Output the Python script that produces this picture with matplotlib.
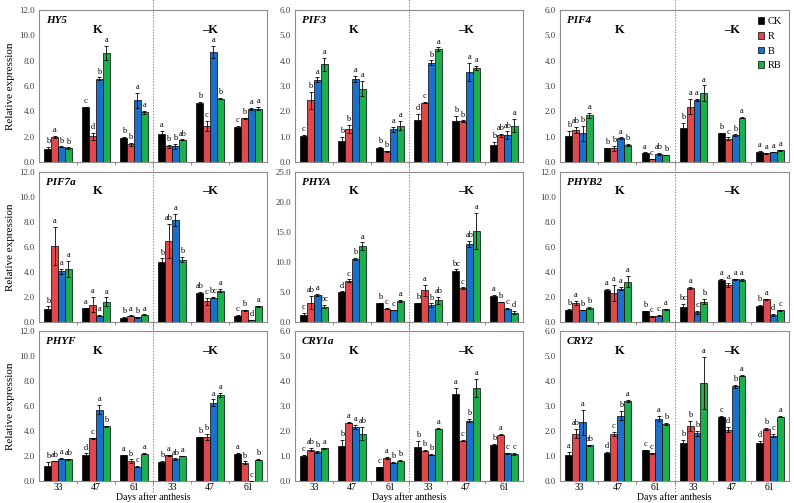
import numpy as np
import matplotlib.pyplot as plt

plt.rcParams['font.family'] = 'Liberation Serif'

days = ['33', '47', '61', '33', '47', '61']
treatments = ['CK', 'R', 'B', 'RB']
colors = ['#000000', '#E0494C', '#1C6FCB', '#1DAF4B']

# mean, sd and letters per group (K 33/47/61, -K 33/47/61) x (CK, R, B, RB)
hy5_mean = [[1.05, 1.97, 1.20, 1.07], [4.33, 2.02, 6.56, 8.63], [1.92, 1.39, 4.86, 3.91],
            [2.18, 1.23, 1.23, 1.76], [4.65, 2.83, 8.69, 5.01], [2.76, 3.46, 4.17, 4.22]]
hy5_sd = [[0.15, 0.08, 0.03, 0.08], [0.04, 0.30, 0.12, 0.55], [0.04, 0.10, 0.60, 0.15],
          [0.25, 0.15, 0.20, 0.03], [0.08, 0.40, 0.50, 0.05], [0.10, 0.05, 0.08, 0.15]]
hy5_let = [['b', 'a', 'b', 'b'], ['c', 'd', 'b', 'a'], ['b', 'b', 'a', 'a'],
           ['a', 'b', 'b', 'ab'], ['b', 'c', 'a', 'b'], ['c', 'b', 'a', 'a']]

pif3_mean = [[1.01, 2.43, 3.24, 3.85], [0.83, 1.31, 3.27, 2.89], [0.56, 0.42, 1.29, 1.44],
             [1.65, 2.34, 3.91, 4.46], [1.63, 1.60, 3.56, 3.70], [0.68, 1.05, 1.06, 1.44]]
pif3_sd = [[0.07, 0.35, 0.10, 0.25], [0.15, 0.15, 0.12, 0.30], [0.02, 0.03, 0.10, 0.18],
           [0.25, 0.03, 0.10, 0.06], [0.20, 0.04, 0.35, 0.08], [0.10, 0.06, 0.15, 0.25]]
pif3_let = [['c', 'b', 'a', 'a'], ['b', 'b', 'a', 'a'], ['b', 'b', 'a', 'a'],
            ['d', 'c', 'b', 'a'], ['b', 'b', 'a', 'a'], ['b', 'ab', 'ab', 'a']]

pif4_mean = [[1.04, 1.26, 1.14, 1.84], [0.54, 0.55, 0.94, 0.68], [0.37, 0.11, 0.31, 0.28],
             [1.36, 2.18, 2.45, 2.72], [1.13, 0.91, 1.06, 1.75], [0.39, 0.34, 0.39, 0.47]]
pif4_sd = [[0.18, 0.12, 0.30, 0.10], [0.03, 0.10, 0.03, 0.05], [0.01, 0.01, 0.04, 0.01],
           [0.18, 0.30, 0.05, 0.30], [0.03, 0.06, 0.03, 0.02], [0.05, 0.01, 0.01, 0.02]]
pif4_let = [['b', 'ab', 'b', 'a'], ['b', 'b', 'a', 'b'], ['a', 'c', 'ab', 'b'],
            ['b', 'a', 'a', 'a'], ['b', 'c', 'b', 'a'], ['a', 'a', 'a', 'a']]

pif7a_mean = [[1.05, 6.10, 4.06, 4.22], [1.10, 1.39, 0.52, 1.62], [0.34, 0.52, 0.37, 0.58],
              [4.79, 6.50, 8.17, 4.98], [2.36, 1.65, 1.96, 2.52], [0.50, 0.94, 0.18, 1.26]]
pif7a_sd = [[0.20, 1.50, 0.20, 0.65], [0.06, 0.60, 0.02, 0.35], [0.04, 0.02, 0.04, 0.03],
            [0.30, 1.35, 0.45, 0.20], [0.08, 0.25, 0.03, 0.15], [0.05, 0.03, 0.02, 0.06]]
pif7a_let = [['b', 'a', 'a', 'a'], ['a', 'a', 'a', 'a'], ['b', 'a', 'b', 'a'],
             ['b', 'ab', 'a', 'b'], ['ab', 'c', 'bc', 'a'], ['c', 'b', 'd', 'a']]

phya_mean = [[1.18, 3.25, 4.48, 2.58], [5.04, 6.89, 10.48, 12.61], [3.14, 2.24, 2.02, 3.53],
             [3.14, 5.27, 2.80, 3.64], [8.46, 5.66, 13.06, 15.19], [4.32, 3.36, 2.24, 1.57]]
phya_sd = [[0.30, 1.10, 0.15, 0.25], [0.05, 0.20, 0.20, 0.65], [0.05, 0.10, 0.05, 0.20],
           [0.05, 0.90, 0.30, 0.60], [0.30, 0.10, 0.50, 3.00], [0.15, 0.05, 0.15, 0.30]]
phya_let = [['c', 'ab', 'a', 'bc'], ['d', 'c', 'b', 'a'], ['b', 'c', 'c', 'a'],
            ['b', 'a', 'b', 'ab'], ['bc', 'c', 'ab', 'a'], ['a', 'b', 'c', 'd']]

phyb2_mean = [[0.97, 1.54, 0.97, 1.13], [2.56, 2.35, 2.67, 3.24], [0.89, 0.46, 0.51, 1.02],
              [1.24, 2.72, 0.78, 1.62], [3.37, 2.96, 3.42, 3.37], [1.32, 1.83, 0.57, 0.94]]
phyb2_sd = [[0.10, 0.15, 0.03, 0.05], [0.12, 0.65, 0.12, 0.45], [0.03, 0.04, 0.04, 0.03],
            [0.20, 0.06, 0.10, 0.20], [0.10, 0.15, 0.03, 0.10], [0.06, 0.05, 0.08, 0.02]]
phyb2_let = [['b', 'a', 'b', 'b'], ['a', 'a', 'a', 'a'], ['b', 'c', 'c', 'a'],
             ['bc', 'a', 'c', 'b'], ['a', 'a', 'a', 'a'], ['b', 'a', 'd', 'c']]

phyf_mean = [[1.18, 1.60, 1.79, 1.74], [2.11, 3.42, 5.72, 4.38], [2.06, 1.58, 1.15, 2.19],
             [1.50, 2.06, 1.76, 2.00], [3.53, 3.50, 6.28, 6.87], [2.19, 1.47, 0.03, 1.71]]
phyf_sd = [[0.35, 0.03, 0.03, 0.05], [0.10, 0.03, 0.35, 0.05], [0.03, 0.15, 0.05, 0.03],
           [0.10, 0.05, 0.05, 0.02], [0.03, 0.25, 0.25, 0.15], [0.03, 0.10, 0.01, 0.03]]
phyf_let = [['b', 'ab', 'a', 'ab'], ['d', 'c', 'a', 'b'], ['a', 'b', 'c', 'a'],
            ['b', 'a', 'ab', 'a'], ['b', 'b', 'a', 'a'], ['a', 'b', 'c', 'b']]

cry1a_mean = [[1.00, 1.26, 1.16, 1.31], [1.40, 2.33, 2.17, 1.90], [0.56, 0.93, 0.74, 0.81],
              [1.37, 1.22, 1.06, 2.10], [3.49, 1.61, 2.42, 3.73], [1.45, 1.86, 1.11, 1.08]]
cry1a_sd = [[0.03, 0.05, 0.03, 0.02], [0.25, 0.02, 0.08, 0.25], [0.02, 0.03, 0.02, 0.02],
            [0.25, 0.02, 0.02, 0.03], [0.25, 0.02, 0.05, 0.35], [0.02, 0.02, 0.02, 0.05]]
cry1a_let = [['c', 'ab', 'b', 'a'], ['b', 'a', 'a', 'ab'], ['c', 'a', 'b', 'b'],
             ['b', 'b', 'b', 'a'], ['a', 'c', 'b', 'a'], ['b', 'a', 'c', 'c']]

cry2_mean = [[1.03, 1.89, 2.36, 1.43], [1.12, 1.88, 2.61, 3.20], [1.24, 1.11, 2.50, 2.28],
             [1.51, 2.20, 1.91, 3.92], [2.58, 2.05, 3.79, 4.22], [1.51, 2.09, 1.82, 2.58]]
cry2_sd = [[0.15, 0.18, 0.50, 0.01], [0.03, 0.08, 0.18, 0.05], [0.02, 0.01, 0.10, 0.05],
           [0.15, 0.20, 0.10, 1.05], [0.03, 0.10, 0.05, 0.02], [0.08, 0.05, 0.07, 0.02]]
cry2_let = [['a', 'ab', 'a', 'ab'], ['d', 'c', 'b', 'a'], ['c', 'c', 'a', 'b'],
            ['b', 'b', 'b', 'a'], ['c', 'd', 'b', 'a'], ['d', 'b', 'c', 'a']]

panels = [
    ('HY5', hy5_mean, hy5_sd, hy5_let, 12, 2),
    ('PIF3', pif3_mean, pif3_sd, pif3_let, 6, 1),
    ('PIF4', pif4_mean, pif4_sd, pif4_let, 6, 1),
    ('PIF7a', pif7a_mean, pif7a_sd, pif7a_let, 12, 2),
    ('PHYA', phya_mean, phya_sd, phya_let, 25, 5),
    ('PHYB2', phyb2_mean, phyb2_sd, phyb2_let, 12, 2),
    ('PHYF', phyf_mean, phyf_sd, phyf_let, 12, 2),
    ('CRY1a', cry1a_mean, cry1a_sd, cry1a_let, 6, 1),
    ('CRY2', cry2_mean, cry2_sd, cry2_let, 6, 1),
]

W, H = 794, 503
fig = plt.figure(figsize=(W / 100, H / 100), dpi=100)

col_x = [(39, 228), (295, 228), (560, 229)]
row_y = [(10, 162), (172, 322), (331, 481)]

bw = 0.18
x = np.arange(6)

for i, (name, mean, sd, let, ymax, step) in enumerate(panels):
    r, c = divmod(i, 3)
    x0, w = col_x[c]
    yt, yb = row_y[r]
    ax = fig.add_axes([x0 / W, 1 - yb / H, w / W, (yb - yt) / H])
    mean = np.array(mean)
    sd = np.array(sd)
    for j in range(4):
        xs = x + (j - 1.5) * bw
        ax.bar(xs, mean[:, j], bw, color=colors[j], edgecolor='black', linewidth=0.5,
               label=treatments[j], zorder=2)
        ax.errorbar(xs, mean[:, j], yerr=sd[:, j], fmt='none', ecolor='black',
                    elinewidth=0.6, capsize=1.5, capthick=0.6, zorder=3)
        for k in range(6):
            ax.text(xs[k], mean[k, j] + sd[k, j] + ymax * 0.012, let[k][j],
                    ha='center', va='bottom', fontsize=6)
    ax.set_xlim(-0.5, 5.5)
    ax.set_ylim(0, ymax)
    ax.set_yticks(np.arange(0, ymax + 0.01, step))
    ax.set_yticklabels(['%.1f' % v for v in np.arange(0, ymax + 0.01, step)], fontsize=6.5)
    ax.tick_params(axis='y', length=0, pad=3, colors='#404040')
    ax.set_xticks(x)
    ax.set_xticks(np.arange(0.5, 5, 1), minor=True)
    ax.tick_params(axis='x', which='major', length=0, labelsize=7, pad=1.5)
    ax.tick_params(axis='x', which='minor', length=2, direction='out', color='#808080')
    if r == 2:
        ax.set_xticklabels(days)
        ax.set_xlabel('Days after anthesis', fontsize=7, labelpad=0)
    else:
        ax.set_xticklabels([])
    if c == 0:
        ax.set_ylabel('Relative expression', fontsize=8, labelpad=3)
    for s in ax.spines.values():
        s.set_color('#8C8C8C')
        s.set_linewidth(0.8)
    ax.axvline(2.5, ymin=-0.07, ymax=1.07, color='#8C8C8C', linestyle=(0, (1.5, 1.5)),
               linewidth=0.7, clip_on=False, zorder=1)
    ax.text(0.03, 0.96, name, transform=ax.transAxes, ha='left', va='top',
            fontsize=8, fontstyle='italic', fontweight='bold')
    ax.text(1.05, ymax * 0.87, 'K', ha='center', va='center', fontsize=9, fontweight='bold')
    ax.text(4.0, ymax * 0.87, '\u2013K', ha='center', va='center', fontsize=9, fontweight='bold')
    if name == 'PIF4':
        ax.legend(loc='upper right', fontsize=7.5, frameon=False, handlelength=0.6,
                  handleheight=0.6, handletextpad=0.3, labelspacing=0.55,
                  borderaxespad=0.3)

fig.savefig('out.png', dpi=100)
